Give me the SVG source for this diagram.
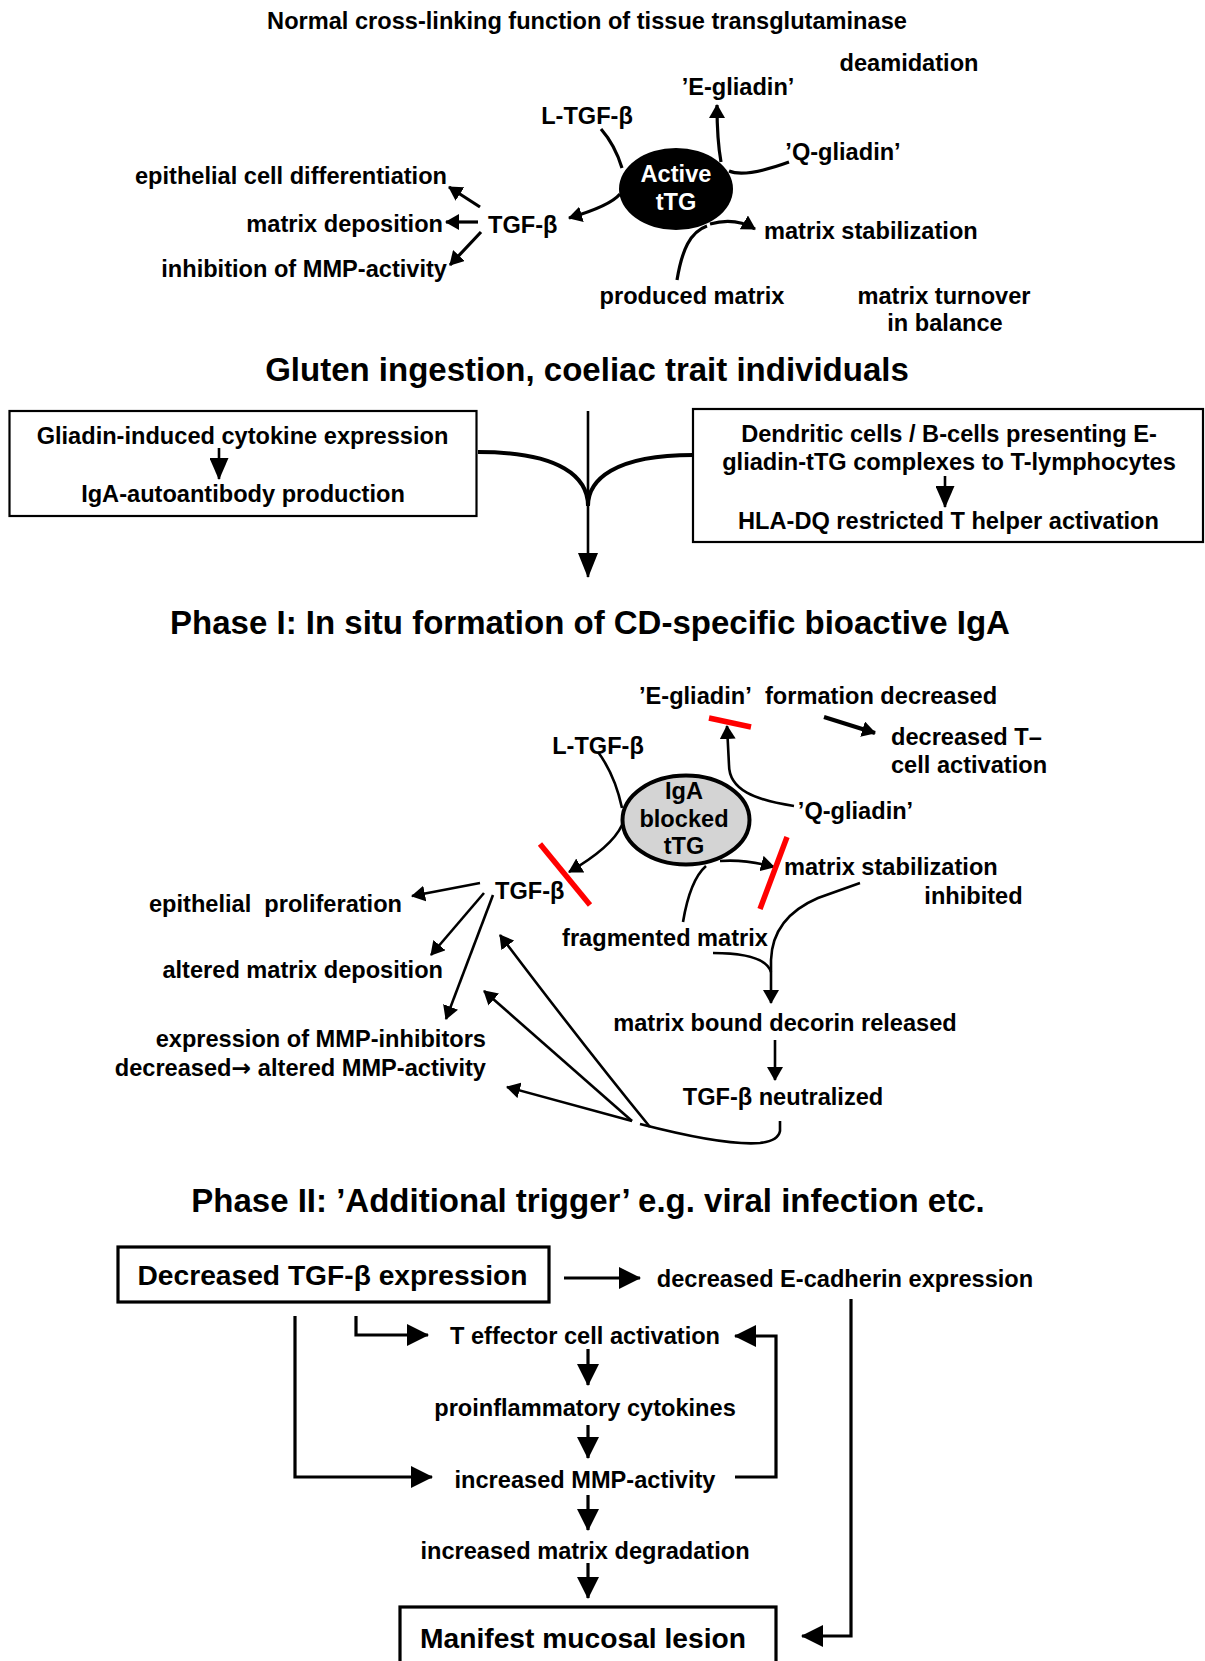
<svg xmlns="http://www.w3.org/2000/svg" width="1205" height="1661" viewBox="0 0 1205 1661">
<style>
text{font-family:"Liberation Sans",Arial,sans-serif;font-weight:bold;fill:#000}
.t{font-size:23.6px}
.h{font-size:33px}
.b{font-size:28.2px}
.m{text-anchor:middle}
.e{text-anchor:end}
.w{fill:#fff}
.ar{font-family:"DejaVu Sans",sans-serif}
.ln{fill:none;stroke:#000;stroke-width:3.2;stroke-linecap:butt}
.thin{fill:none;stroke:#000;stroke-width:2.6}
.red{fill:none;stroke:#f00;stroke-width:5.5}
.box{fill:none;stroke:#000;stroke-width:2.2}
.box3{fill:none;stroke:#000;stroke-width:3.2}
</style>
<defs>
<marker id="a" markerUnits="userSpaceOnUse" markerWidth="14" markerHeight="16" refX="13" refY="8" orient="auto"><path d="M0,0 L14,8 L0,16 z" fill="#000"/></marker>
<marker id="b" markerUnits="userSpaceOnUse" markerWidth="22" markerHeight="22" refX="21" refY="11" orient="auto"><path d="M0,0 L22,11 L0,22 z" fill="#000"/></marker>
<marker id="c" markerUnits="userSpaceOnUse" markerWidth="25" markerHeight="20" refX="24" refY="10" orient="auto"><path d="M0,0 L25,10 L0,20 z" fill="#000"/></marker>
<marker id="d" markerUnits="userSpaceOnUse" markerWidth="22" markerHeight="19" refX="21" refY="9.5" orient="auto"><path d="M0,0 L22,9.5 L0,19 z" fill="#000"/></marker>
</defs>

<g id="connectors">
<!-- top section -->
<path class="ln" d="M601,129 Q615,145 622,168"/>
<path class="ln" d="M721,162 Q717,140 717,105" marker-end="url(#a)"/>
<path class="ln" d="M729,171 Q745,178 789,162"/>
<path class="ln" d="M620,194 Q610,206 569,218" marker-end="url(#a)"/>
<path class="ln" d="M710,224 Q735,217 755,229" marker-end="url(#a)"/>
<path class="ln" d="M677,280 C682,250 690,232 707,226"/>
<path class="ln" d="M480,207 L449,187" marker-end="url(#a)"/>
<path class="ln" d="M478,222 L446,222" marker-end="url(#a)"/>
<path class="ln" d="M481,232 L450,265" marker-end="url(#a)"/>
<!-- gluten section -->
<path class="thin" d="M219,448 L219,479" marker-end="url(#d)"/>
<path class="thin" d="M945,476 L945,507" marker-end="url(#d)"/>
<path class="thin" d="M588,411 L588,577" marker-end="url(#c)"/>
<path fill="none" stroke="#000" stroke-width="4" d="M478,452 C562,452 588,478 588,506"/>
<path fill="none" stroke="#000" stroke-width="4" d="M693,455 C614,455 588,480 588,506"/>
<!-- phase I -->
<path fill="none" stroke="#000" stroke-width="4" d="M824,717 L875,733" marker-end="url(#a)"/>
<path class="thin" d="M794,806 C755,800 729,790 729,765 L727,726" marker-end="url(#a)"/>
<path class="thin" d="M598,752 Q615,775 622,808"/>
<path class="thin" d="M622,825 Q612,847 569,872" marker-end="url(#a)"/>
<path class="thin" d="M720,861 Q745,859 774,867" marker-end="url(#a)"/>
<path class="thin" d="M683,922 Q690,880 706,866"/>
<path class="thin" d="M860,883 L818,898 C790,910 772,930 771,960 L771,1003" marker-end="url(#a)"/>
<path class="thin" d="M713,953 Q765,953 771,972"/>
<path class="thin" d="M775,1040 L775,1080" marker-end="url(#a)"/>
<path class="thin" d="M780,1121 L780,1131 Q778,1141 760,1143 Q725,1146 640,1124"/>
<path class="thin" d="M650,1127 Q583,1045 500,935" marker-end="url(#a)"/>
<path class="thin" d="M632,1121 L484,991" marker-end="url(#a)"/>
<path class="thin" d="M632,1121 L507,1087" marker-end="url(#a)"/>
<path class="thin" d="M480,883 L412,896" marker-end="url(#a)"/>
<path class="thin" d="M484,893 L431,955" marker-end="url(#a)"/>
<path class="thin" d="M493,895 L446,1019" marker-end="url(#a)"/>
<path class="red" d="M709,718 L751,727"/>
<path class="red" d="M540,844 L590,905"/>
<path class="red" d="M787,837 L760,909"/>
<!-- phase II -->
<path class="ln" d="M564,1278 L640,1278" marker-end="url(#b)"/>
<path class="ln" d="M851,1299 L851,1636 L802,1636" marker-end="url(#b)"/>
<path class="ln" d="M295,1316 L295,1477 L432,1477" marker-end="url(#b)"/>
<path class="ln" d="M356,1316 L356,1335 L428,1335" marker-end="url(#b)"/>
<path class="ln" d="M588,1349 L588,1385" marker-end="url(#b)"/>
<path class="ln" d="M588,1425 L588,1458" marker-end="url(#b)"/>
<path class="ln" d="M588,1495 L588,1530" marker-end="url(#b)"/>
<path class="ln" d="M588,1563 L588,1598" marker-end="url(#b)"/>
<path class="ln" d="M735,1477 L776,1477 L776,1336 L735,1336" marker-end="url(#b)"/>
</g>

<g id="top-section">
<text class="t m" x="587" y="29">Normal cross-linking function of tissue transglutaminase</text>
<text class="t m" x="909" y="71">deamidation</text>
<text class="t m" x="738" y="95">’E-gliadin’</text>
<text class="t m" x="587" y="124">L-TGF-β</text>
<text class="t m" x="843" y="160">’Q-gliadin’</text>
<text class="t e" x="447" y="184">epithelial cell differentiation</text>
<text class="t e" x="443" y="232">matrix deposition</text>
<text class="t" x="488" y="233">TGF-β</text>
<text class="t e" x="447" y="277">inhibition of MMP-activity</text>
<text class="t" x="764" y="239">matrix stabilization</text>
<text class="t m" x="692" y="304">produced matrix</text>
<text class="t m" x="944" y="304">matrix turnover</text>
<text class="t m" x="945" y="331">in balance</text>
</g>
<g id="active-ttg">
<ellipse cx="676" cy="189" rx="57" ry="41" fill="#000"/>
<text class="t m w" x="676" y="182">Active</text>
<text class="t m w" x="676" y="210">tTG</text>
</g>

<text class="h m" x="587" y="381">Gluten ingestion, coeliac trait individuals</text>

<g id="box-left">
<rect class="box" x="9.5" y="411" width="467" height="105"/>
<text class="t m" x="242.5" y="444">Gliadin-induced cytokine expression</text>
<text class="t m" x="243" y="502">IgA-autoantibody production</text>
</g>
<g id="box-right">
<rect class="box" x="693" y="409" width="510" height="133"/>
<text class="t m" x="949" y="442">Dendritic cells / B-cells presenting E-</text>
<text class="t m" x="949" y="470">gliadin-tTG complexes to T-lymphocytes</text>
<text class="t m" x="948.5" y="529">HLA-DQ restricted T helper activation</text>
</g>

<text class="h m" x="590" y="634">Phase I: In situ formation of CD-specific bioactive IgA</text>

<g id="phase1">
<text class="t" x="639" y="704">’E-gliadin’</text>
<text class="t" x="765" y="704">formation decreased</text>
<text class="t" x="891" y="745">decreased T–</text>
<text class="t" x="891" y="773">cell activation</text>
<text class="t m" x="598" y="754">L-TGF-β</text>
<text class="t m" x="855.5" y="819">’Q-gliadin’</text>
<text class="t" x="495" y="899">TGF-β</text>
<text class="t" x="784" y="875">matrix stabilization</text>
<text class="t m" x="973.5" y="904">inhibited</text>
<text class="t e" x="402" y="912" xml:space="preserve">epithelial  proliferation</text>
<text class="t e" x="443" y="978">altered matrix deposition</text>
<text class="t e" x="486" y="1047">expression of MMP-inhibitors</text>
<text class="t e" x="486" y="1076">decreased<tspan class="ar">→</tspan> altered MMP-activity</text>
<text class="t m" x="665" y="946">fragmented matrix</text>
<text class="t m" x="785" y="1031">matrix bound decorin released</text>
<text class="t m" x="783" y="1105">TGF-β neutralized</text>
</g>
<g id="iga-blocked-ttg">
<ellipse cx="686" cy="820" rx="63.5" ry="44.5" fill="#d4d4d4" stroke="#000" stroke-width="4"/>
<text class="t m" x="684" y="799">IgA</text>
<text class="t m" x="684" y="827">blocked</text>
<text class="t m" x="684" y="854">tTG</text>
</g>

<text class="h m" x="588" y="1212">Phase II: ’Additional trigger’ e.g. viral infection etc.</text>

<g id="box-tgf">
<rect class="box3" x="118" y="1247" width="431" height="55"/>
<text class="b m" x="332.5" y="1285">Decreased TGF-β expression</text>
</g>
<g id="phase2">
<text class="t m" x="845" y="1287">decreased E-cadherin expression</text>
<text class="t m" x="585" y="1344">T effector cell activation</text>
<text class="t m" x="585" y="1416">proinflammatory cytokines</text>
<text class="t m" x="585" y="1488">increased MMP-activity</text>
<text class="t m" x="585" y="1559">increased matrix degradation</text>
</g>
<g id="box-lesion">
<rect class="box3" x="400" y="1607" width="376" height="62"/>
<text class="b m" x="583" y="1648">Manifest mucosal lesion</text>
</g>
</svg>
